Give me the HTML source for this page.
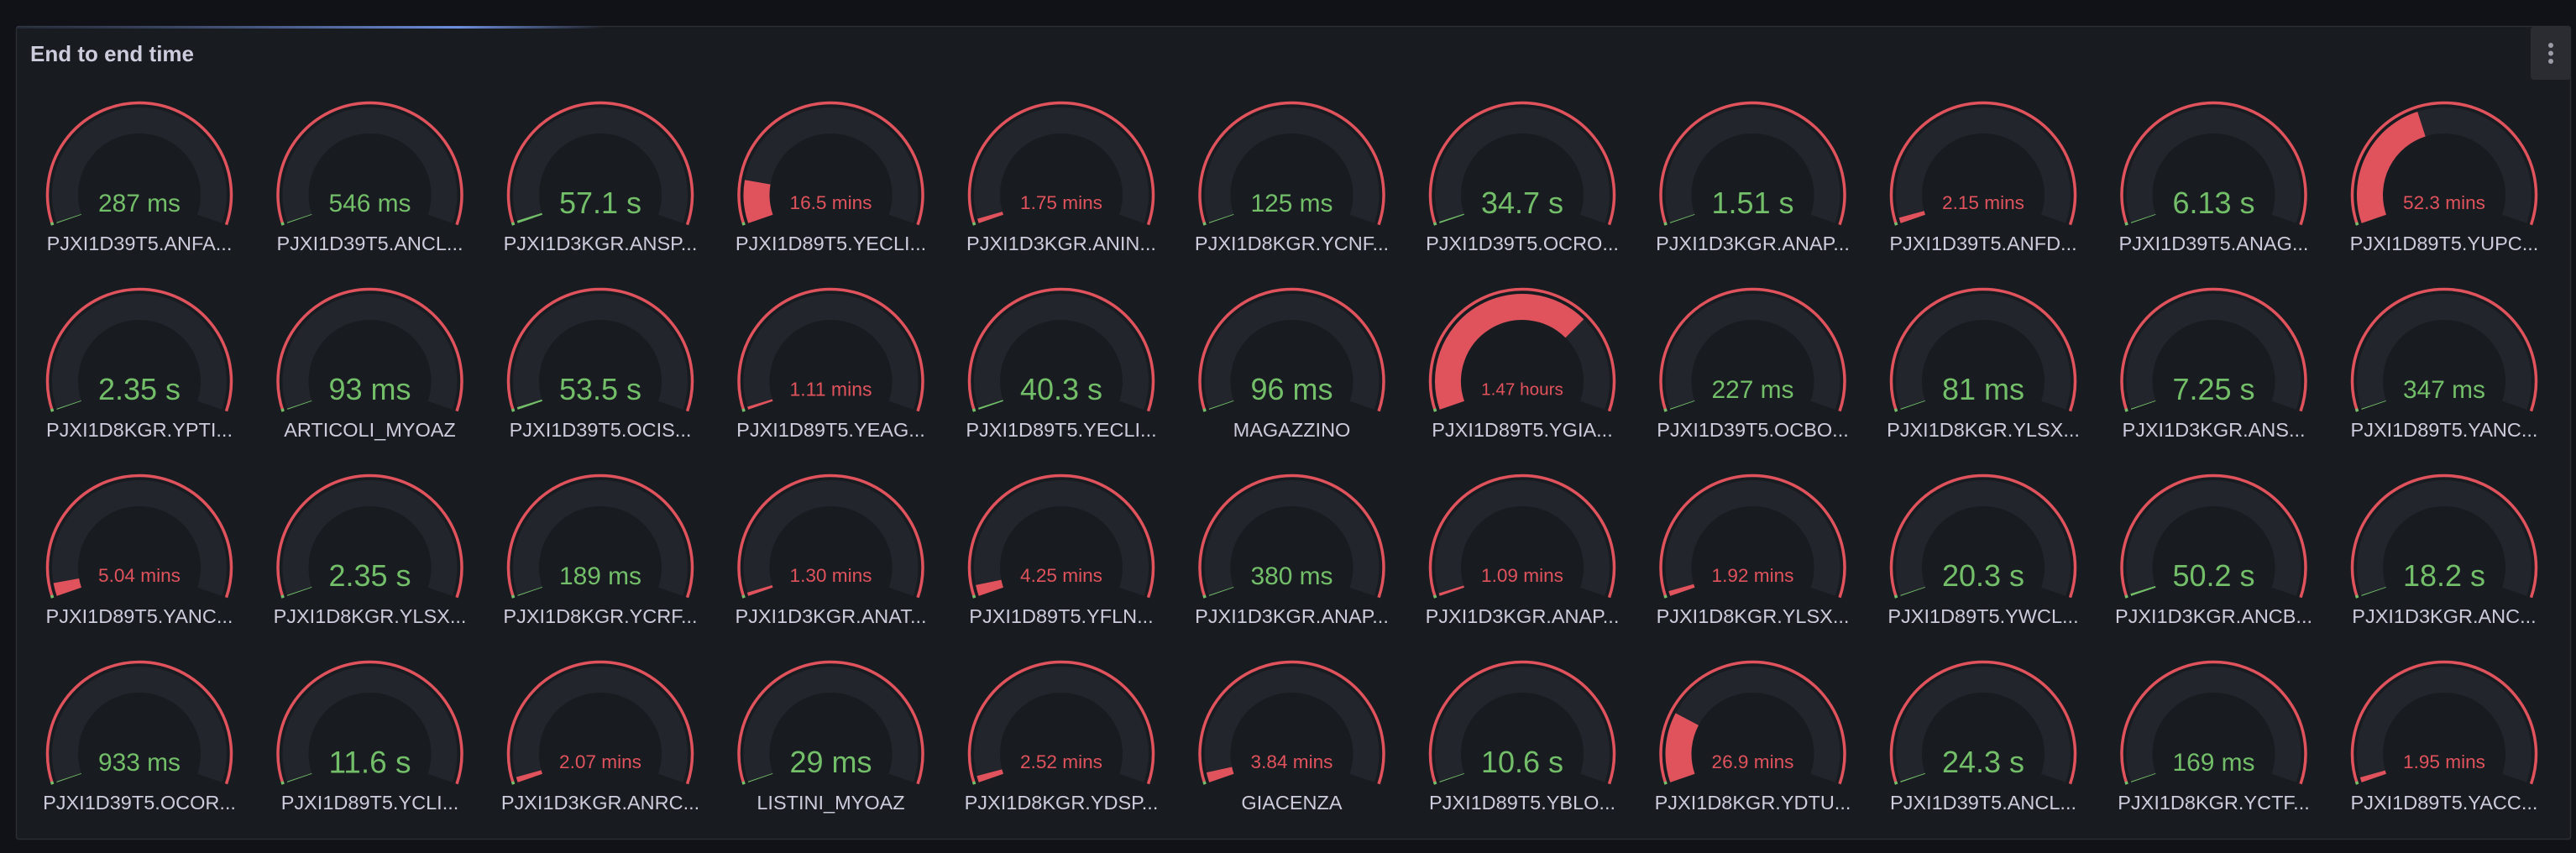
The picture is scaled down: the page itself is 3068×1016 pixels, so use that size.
<!DOCTYPE html>
<html><head><meta charset="utf-8"><style>
html,body{margin:0;padding:0;background:#111217;width:3068px;height:1016px;overflow:hidden;font-family:"Liberation Sans",sans-serif}
svg{display:block}
</style></head><body>
<svg id="s" width="3068" height="1016" xmlns="http://www.w3.org/2000/svg">
<defs><linearGradient id="bl" x1="0" x2="1" y1="0" y2="0">
<stop offset="0" stop-color="#3d4a6b" stop-opacity="0.3"/><stop offset="0.75" stop-color="#6e8fe0"/><stop offset="1" stop-color="#6e8fe0" stop-opacity="0"/></linearGradient></defs>
<rect x="19.5" y="31.5" width="3042" height="968" rx="3" fill="#181b1f" stroke="#2a2d33" stroke-width="1.5"/>
<rect x="20" y="31" width="700" height="3" fill="url(#bl)"/>
<text x="36" y="73" font-size="26" font-weight="bold" fill="#ccccdc" style="font-weight:600">End to end time</text>
<rect x="3014" y="32" width="48" height="63" rx="4" fill="#2a2c31"/>
<circle cx="3038" cy="54" r="3" fill="#9a9ca6"/><circle cx="3038" cy="63.5" r="3" fill="#9a9ca6"/><circle cx="3038" cy="73" r="3" fill="#9a9ca6"/>
<g id="g"></g>
</svg>
<script>
var d=[
["287 ms","PJXI1D39T5.ANFA..."],["546 ms","PJXI1D39T5.ANCL..."],["57.1 s","PJXI1D3KGR.ANSP..."],["16.5 mins","PJXI1D89T5.YECLI..."],["1.75 mins","PJXI1D3KGR.ANIN..."],["125 ms","PJXI1D8KGR.YCNF..."],["34.7 s","PJXI1D39T5.OCRO..."],["1.51 s","PJXI1D3KGR.ANAP..."],["2.15 mins","PJXI1D39T5.ANFD..."],["6.13 s","PJXI1D39T5.ANAG..."],["52.3 mins","PJXI1D89T5.YUPC..."],
["2.35 s","PJXI1D8KGR.YPTI..."],["93 ms","ARTICOLI_MYOAZ"],["53.5 s","PJXI1D39T5.OCIS..."],["1.11 mins","PJXI1D89T5.YEAG..."],["40.3 s","PJXI1D89T5.YECLI..."],["96 ms","MAGAZZINO"],["1.47 hours","PJXI1D89T5.YGIA..."],["227 ms","PJXI1D39T5.OCBO..."],["81 ms","PJXI1D8KGR.YLSX..."],["7.25 s","PJXI1D3KGR.ANS..."],["347 ms","PJXI1D89T5.YANC..."],
["5.04 mins","PJXI1D89T5.YANC..."],["2.35 s","PJXI1D8KGR.YLSX..."],["189 ms","PJXI1D8KGR.YCRF..."],["1.30 mins","PJXI1D3KGR.ANAT..."],["4.25 mins","PJXI1D89T5.YFLN..."],["380 ms","PJXI1D3KGR.ANAP..."],["1.09 mins","PJXI1D3KGR.ANAP..."],["1.92 mins","PJXI1D8KGR.YLSX..."],["20.3 s","PJXI1D89T5.YWCL..."],["50.2 s","PJXI1D3KGR.ANCB..."],["18.2 s","PJXI1D3KGR.ANC..."],
["933 ms","PJXI1D39T5.OCOR..."],["11.6 s","PJXI1D89T5.YCLI..."],["2.07 mins","PJXI1D3KGR.ANRC..."],["29 ms","LISTINI_MYOAZ"],["2.52 mins","PJXI1D8KGR.YDSP..."],["3.84 mins","GIACENZA"],["10.6 s","PJXI1D89T5.YBLO..."],["26.9 mins","PJXI1D8KGR.YDTU..."],["24.3 s","PJXI1D39T5.ANCL..."],["169 ms","PJXI1D8KGR.YCTF..."],["1.95 mins","PJXI1D89T5.YACC..."]];
var NS="http://www.w3.org/2000/svg",G=document.getElementById("g");
function mins(s){var p=s.split(" "),v=parseFloat(p[0]);if(p[1]=="ms")return v/60000;if(p[1]=="s")return v/60;if(p[1]=="mins")return v;return v*60;}
function pt(cx,cy,r,a){a=a*Math.PI/180;return [cx+r*Math.cos(a),cy-r*Math.sin(a)];}
function arc(cx,cy,r,a0,a1){var p=pt(cx,cy,r,a0),q=pt(cx,cy,r,a1),l=(a0-a1)>180?1:0;return "M"+p[0].toFixed(2)+" "+p[1].toFixed(2)+" A"+r+" "+r+" 0 "+l+" 1 "+q[0].toFixed(2)+" "+q[1].toFixed(2);}
function el(t,a,txt){var e=document.createElementNS(NS,t);for(var k in a)e.setAttribute(k,a[k]);if(txt)e.textContent=txt;G.appendChild(e);return e;}
var RED="#e0535d",GR="#73bf69",A0=199,A1=-19;
d.forEach(function(it,i){
 var c=i%11,r=Math.floor(i/11),cx=166+c*274.5,cy=232+r*222;
 var m=mins(it[0]),red=m>=1,col=red?RED:GR;
 // band
 el("path",{d:arc(cx,cy,88.5,A0,A1),stroke:"#22252b","stroke-width":31,fill:"none"});
 var ang=Math.max(0.6,Math.min(218,m/125*218));
 el("path",{d:arc(cx,cy,88.5,A0,A0-ang),stroke:col,"stroke-width":31,fill:"none"});
 // threshold ring
 el("path",{d:arc(cx,cy,109.5,A0,A1),stroke:RED,"stroke-width":3.5,fill:"none"});
 el("path",{d:arc(cx,cy,109.5,A0+0.3,A0-1.5),stroke:GR,"stroke-width":3.5,fill:"none"});
 // value
 var t=el("text",{x:cx,y:cy,"text-anchor":"middle",fill:col,"font-size":30},it[0]);
 var w=t.getComputedTextLength();var fs=Math.min(40,30*98/w);
 t.setAttribute("font-size",fs.toFixed(1));t.setAttribute("y",(cy+9+0.36*fs).toFixed(1));
 el("text",{x:cx,y:cy+66,"text-anchor":"middle",fill:"#ccccdc","font-size":23.5},it[1]);
});
</script>
</body></html>
